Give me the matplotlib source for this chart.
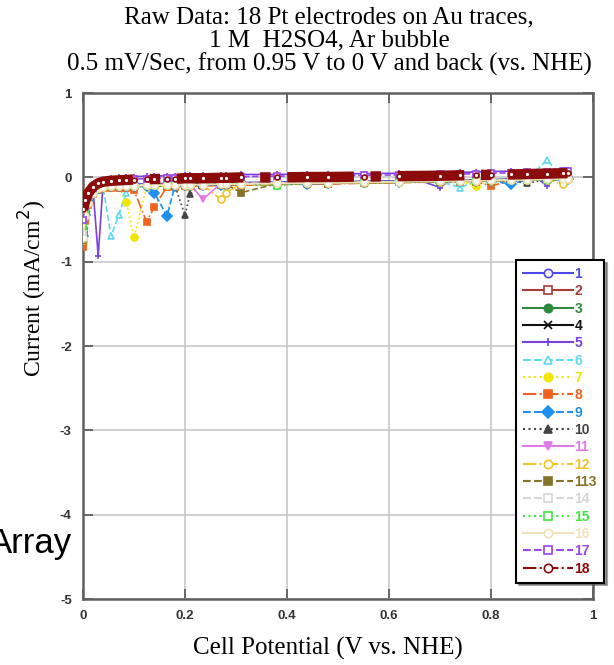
import matplotlib
matplotlib.use("Agg")
import matplotlib.pyplot as plt

# potential grid (V vs. NHE), shared by all electrodes
potential = [0.0, 0.005, 0.01, 0.02, 0.03, 0.04, 0.055, 0.07, 0.085, 0.10, 0.125, 0.14,
             0.165, 0.18, 0.20, 0.21, 0.235, 0.27, 0.28, 0.31, 0.38, 0.44, 0.48, 0.55,
             0.62, 0.70, 0.74, 0.77, 0.80, 0.84, 0.87, 0.91, 0.94, 0.95]

# current density (mA/cm2), one list per electrode
cur_01 = [-0.65,-0.42,-0.28,-0.16,-0.11,-0.09,-0.08,-0.08,-0.08,-0.08,-0.075,-0.075,-0.07,-0.07,-0.07,-0.07,-0.065,-0.06,-0.06,-0.06,-0.055,-0.05,-0.05,-0.045,-0.04,-0.035,-0.03,-0.03,-0.025,-0.02,-0.02,-0.015,-0.01,-0.01]
cur_02 = [-0.72,-0.46,-0.30,-0.17,-0.12,-0.10,-0.09,-0.09,-0.09,-0.09,-0.085,-0.085,-0.08,-0.08,-0.08,-0.08,-0.075,-0.07,-0.07,-0.07,-0.065,-0.06,-0.08,-0.055,-0.05,-0.04,-0.035,-0.035,-0.03,-0.025,-0.02,-0.02,-0.015,-0.01]
cur_03 = [-0.60,-0.40,-0.28,-0.17,-0.13,-0.115,-0.11,-0.11,-0.11,-0.11,-0.105,-0.105,-0.10,-0.10,-0.10,-0.10,-0.095,-0.09,-0.09,-0.09,-0.08,-0.075,-0.07,-0.065,-0.06,-0.05,-0.045,-0.045,-0.04,-0.035,-0.035,-0.03,-0.025,-0.02]
cur_04 = [-0.68,-0.44,-0.29,-0.17,-0.12,-0.10,-0.09,-0.09,-0.09,-0.09,-0.085,-0.085,-0.08,-0.08,-0.08,-0.08,-0.075,-0.07,-0.07,-0.07,-0.065,-0.06,-0.06,-0.055,-0.05,-0.04,-0.035,-0.035,-0.03,-0.025,-0.025,-0.02,-0.015,-0.01]
cur_05 = [-0.45,-0.32,-0.22,-0.15,-0.93,-0.04,-0.01,0.0,0.005,0.01,0.015,0.015,0.02,0.02,0.025,0.025,0.025,0.03,0.03,0.035,0.035,0.04,0.04,0.045,0.05,-0.12,0.06,0.065,0.07,0.075,0.08,-0.10,0.09,0.09]
cur_06 = [-0.75,-0.48,-0.31,-0.19,-0.14,-0.12,-0.70,-0.45,-0.18,-0.11,-0.10,-0.10,-0.095,-0.095,-0.09,-0.09,-0.09,-0.085,-0.085,-0.08,-0.075,-0.07,-0.07,-0.065,-0.055,-0.05,-0.12,-0.045,-0.04,-0.035,-0.03,0.21,-0.02,-0.02]
cur_07 = [-0.78,-0.50,-0.32,-0.19,-0.14,-0.12,-0.11,-0.11,-0.29,-0.71,-0.11,-0.105,-0.10,-0.10,-0.10,-0.10,-0.095,-0.09,-0.09,-0.09,-0.08,-0.075,-0.07,-0.065,-0.06,-0.05,-0.045,-0.10,-0.04,-0.035,-0.03,-0.025,-0.02,-0.02]
cur_08 = [-0.82,-0.52,-0.33,-0.20,-0.15,-0.13,-0.12,-0.12,-0.12,-0.15,-0.53,-0.35,-0.11,-0.11,-0.105,-0.10,-0.10,-0.095,-0.095,-0.09,-0.085,-0.08,-0.075,-0.07,-0.06,-0.055,-0.05,-0.05,-0.10,-0.04,-0.035,-0.03,-0.025,-0.02]
cur_09 = [-0.70,-0.45,-0.30,-0.18,-0.13,-0.11,-0.10,-0.10,-0.10,-0.10,-0.10,-0.18,-0.46,-0.10,-0.095,-0.095,-0.09,-0.085,-0.085,-0.08,-0.075,-0.08,-0.065,-0.06,-0.055,-0.05,-0.045,-0.04,-0.04,-0.08,-0.03,-0.025,-0.02,-0.02]
cur_10 = [-0.72,-0.46,-0.30,-0.18,-0.13,-0.11,-0.10,-0.10,-0.10,-0.10,-0.095,-0.095,-0.09,-0.09,-0.45,-0.20,-0.09,-0.085,-0.085,-0.08,-0.075,-0.07,-0.07,-0.06,-0.055,-0.05,-0.045,-0.04,-0.04,-0.035,-0.07,-0.025,-0.02,-0.02]
cur_11 = [-0.70,-0.45,-0.29,-0.17,-0.12,-0.10,-0.09,-0.09,-0.09,-0.09,-0.085,-0.085,-0.08,-0.08,-0.08,-0.08,-0.26,-0.075,-0.075,-0.07,-0.065,-0.06,-0.06,-0.055,-0.05,-0.045,-0.04,-0.035,-0.035,-0.03,-0.025,-0.02,-0.015,-0.01]
cur_12 = [-0.74,-0.47,-0.30,-0.18,-0.13,-0.11,-0.10,-0.10,-0.10,-0.10,-0.095,-0.095,-0.09,-0.09,-0.09,-0.09,-0.085,-0.26,-0.18,-0.08,-0.075,-0.07,-0.065,-0.06,-0.055,-0.05,-0.045,-0.04,-0.04,-0.035,-0.03,-0.025,-0.08,-0.02]
cur_13 = [-0.74,-0.47,-0.30,-0.18,-0.13,-0.11,-0.10,-0.10,-0.10,-0.10,-0.095,-0.095,-0.09,-0.09,-0.09,-0.09,-0.085,-0.085,-0.08,-0.18,-0.075,-0.07,-0.065,-0.06,-0.055,-0.05,-0.045,-0.04,-0.04,-0.035,-0.03,-0.025,-0.02,-0.02]
cur_14 = [-0.66,-0.43,-0.28,-0.17,-0.12,-0.10,-0.09,-0.09,-0.09,-0.09,-0.085,-0.085,-0.08,-0.08,-0.08,-0.08,-0.075,-0.07,-0.07,-0.07,-0.065,-0.06,-0.06,-0.055,-0.05,-0.04,-0.035,-0.035,-0.03,-0.025,-0.025,-0.02,-0.015,-0.01]
cur_15 = [-0.58,-0.38,-0.26,-0.16,-0.12,-0.105,-0.10,-0.095,-0.095,-0.09,-0.09,-0.085,-0.085,-0.08,-0.08,-0.08,-0.075,-0.075,-0.07,-0.07,-0.10,-0.065,-0.06,-0.055,-0.05,-0.045,-0.04,-0.04,-0.035,-0.03,-0.03,-0.025,-0.02,-0.02]
cur_16 = [-0.72,-0.46,-0.30,-0.18,-0.13,-0.11,-0.10,-0.10,-0.10,-0.10,-0.095,-0.095,-0.09,-0.09,-0.09,-0.09,-0.085,-0.08,-0.08,-0.08,-0.07,-0.07,-0.065,-0.06,-0.05,-0.045,-0.04,-0.04,-0.035,-0.03,-0.03,-0.02,-0.02,-0.015]
cur_17 = [-0.50,-0.34,-0.23,-0.13,-0.08,-0.06,-0.04,-0.03,-0.025,-0.02,-0.015,-0.01,-0.01,-0.005,0.0,0.0,0.0,0.005,0.005,0.01,0.015,0.02,0.02,0.025,0.03,0.035,0.04,0.045,0.05,0.055,0.06,0.07,0.075,0.08]
cur_18 = [-0.38,-0.27,-0.19,-0.11,-0.07,-0.05,-0.04,-0.035,-0.03,-0.025,-0.02,-0.02,-0.015,-0.015,-0.01,-0.01,-0.01,-0.005,-0.005,0.0,0.0,0.005,0.005,0.01,0.015,0.02,0.025,0.03,0.03,0.035,0.04,0.045,0.05,0.05]

labels = ["1", "2", "3", "4", "5", "6", "7", "8", "9", "10", "11", "12",
          "113", "14", "15", "16", "17", "18"]
currents = [cur_01, cur_02, cur_03, cur_04, cur_05, cur_06, cur_07, cur_08, cur_09,
            cur_10, cur_11, cur_12, cur_13, cur_14, cur_15, cur_16, cur_17, cur_18]

colors = ["#4b4be6", "#a83a3a", "#2e8a3e", "#111111", "#7a3fe0", "#5fd8f2",
          "#f2e600", "#f0621e", "#1e90f0", "#444444", "#e07ae6", "#f2c42a",
          "#857228", "#d6d6d6", "#44e644", "#f0e2b8", "#9a45e6", "#8b0a0a"]
markers = ["o", "s", "o", "x", "+", "^", "o", "s", "D", "^", "v", "o",
           "s", "s", "s", "o", "s", "o"]
filled = [False, False, True, True, True, False, True, True, True, True, True, False,
          True, False, False, False, False, False]
styles = ["-", "-", "-", "-", "-", "--", ":", "-.", "--", ":", "-", "-.",
          "--", "--", ":", "-", "--", "-."]

fig = plt.figure(figsize=(6.14, 6.65), dpi=100)
ax = fig.add_axes([0.135, 0.0992, 0.831, 0.7608])

for i in range(len(labels)):
    lw = 1.2
    ms = 5
    if labels[i] == "18":
        lw = 7.5
        ms = 3.5
    ax.plot(potential, currents[i], color=colors[i], linestyle=styles[i], linewidth=lw,
            marker=markers[i], markersize=ms, markeredgewidth=1.2,
            markerfacecolor=colors[i] if filled[i] else "white",
            markeredgecolor=colors[i], label=labels[i], zorder=2 + i)

ax.set_xlim(0, 1)
ax.set_ylim(-5, 1)
ax.set_xticks([0, 0.2, 0.4, 0.6, 0.8, 1])
ax.set_xticklabels(["0", "0.2", "0.4", "0.6", "0.8", "1"])
ax.set_yticks([1, 0, -1, -2, -3, -4, -5])
ax.set_yticklabels(["1", "0", "-1", "-2", "-3", "-4", "-5"])
ax.grid(True, color="#c8c8c8", linewidth=1.2, zorder=0)
ax.set_axisbelow(True)
ax.tick_params(direction="in", length=7, width=1.2, colors="#555555",
               top=True, right=True, labelsize=9.5, pad=8)
for lab in ax.get_xticklabels() + ax.get_yticklabels():
    lab.set_fontweight("bold")
    lab.set_family("Liberation Sans")
    lab.set_color("#333333")
for sp in ax.spines.values():
    sp.set_color("#606060")
    sp.set_linewidth(1.8)

leg = ax.legend(loc="upper left", bbox_to_anchor=(0.849, 0.67), borderaxespad=0,
                fancybox=False, shadow=True, framealpha=1, edgecolor="black",
                handlelength=3.6, handletextpad=0.1, labelspacing=0.24,
                borderpad=0.5, prop={"family": "Liberation Sans", "weight": "bold", "size": 10})
leg.get_frame().set_linewidth(1.5)
leg.set_zorder(30)
for line in leg.get_lines():
    line.set_linewidth(1.5)
    line.set_markersize(6)
for txt, c in zip(leg.get_texts(), colors):
    txt.set_color(c)

fig.text(0.536, 0.991, "Raw Data: 18 Pt electrodes on Au traces,\n1 M  H2SO4, Ar bubble\n"
         "0.5 mV/Sec, from 0.95 V to 0 V and back (vs. NHE)",
         ha="center", va="top", family="Liberation Serif", fontsize=18, linespacing=1.08)
fig.text(0.053, 1 - 288 / 665, "Current (mA/cm$^2$)", rotation=90, ha="center", va="center",
         family="Liberation Serif", fontsize=17)
fig.text(0.534, 0.025, "Cell Potential (V vs. NHE)", ha="center", va="center",
         family="Liberation Serif", fontsize=18)
fig.text(72 / 614, 1 - 553 / 665, "Array", ha="right", va="baseline",
         family="Liberation Sans", fontsize=25)

fig.savefig("out.png", dpi=100)
